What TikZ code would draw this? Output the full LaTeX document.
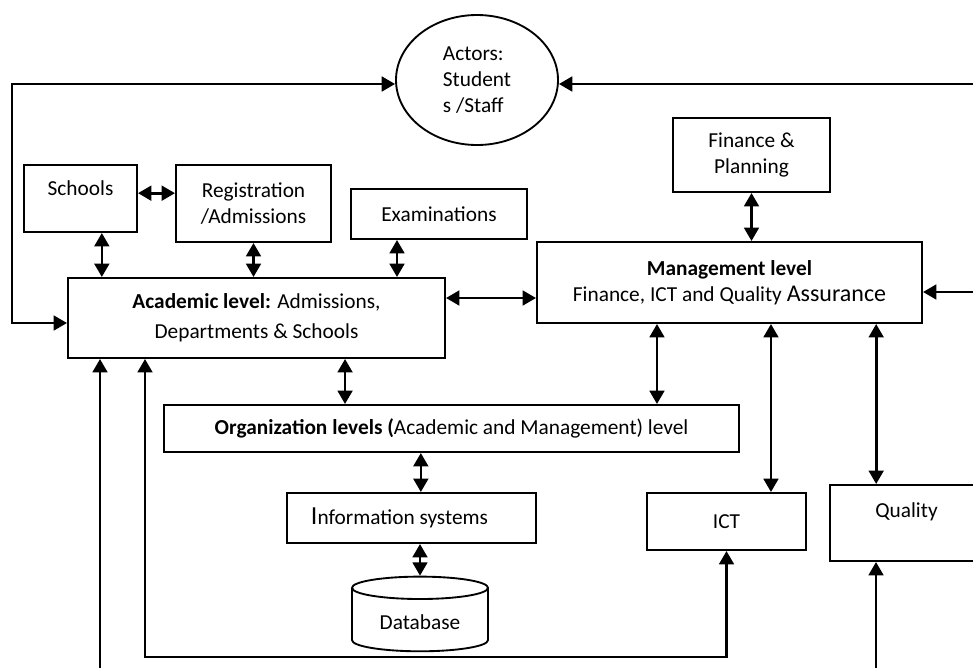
\documentclass[tikz,border=0pt]{standalone}
\usepackage{fontspec}
\setmainfont{Carlito}
\usepackage{tikz}
\usetikzlibrary{positioning,calc,shapes.geometric,arrows.meta}

\tikzset{
	box/.style={draw, line width=1.5pt, inner sep=2pt, align=center, font=\fontsize{16}{19.5}\selectfont},
	link/.style={line width=2pt, {Triangle[length=10pt,width=11pt]}-{Triangle[length=10pt,width=11pt]}},
	feed/.style={line width=2pt, -{Triangle[length=10pt,width=11pt]}}
}

\begin{document}
\begin{tikzpicture}[x=0.75pt,y=-0.75pt]
		\useasboundingbox (0,0) rectangle (973,668);
		
		\node[ellipse,draw,line width=1.4pt,inner sep=0pt,minimum width=121.5pt,minimum height=97.5pt,align=left,font=\fontsize{16}{19.5}\selectfont] (ACT) at (477,80) {Actors:\\Student\\s /Staff};
		
		\node[box,minimum width=84.75pt,minimum height=50.25pt] (SCH) at (80.5,198.5) {Schools\\[-4pt] \mbox{}};
		\node[box,minimum width=116.25pt,minimum height=57.75pt] (REG) at (253.5,203.5) {Registration\\/Admissions};
		\node[box,minimum width=132pt,minimum height=37.5pt] (EXA) at (439,214) {Examinations};
		\node[box,minimum width=117.75pt,minimum height=55.5pt] (FIN) at (751.5,155) {Finance \&\\Planning};
		
		\node[box,minimum width=282.75pt,minimum height=60pt] (ACA) at (256.5,318) {\textbf{Academic level:} Admissions,\\[3pt]Departments \& Schools};
		\node[box,minimum width=288.75pt,minimum height=60.75pt] (MGT) at (729.5,282.5) {\textbf{Management level}\\Finance, ICT and Quality {\fontsize{18}{19.5}\selectfont Assurance}};
		
		\node[box,minimum width=431.25pt,minimum height=35.25pt] (ORG) at (451.5,428.5) {\textbf{Organization levels (}Academic and Management) level};
		
		\node[box,minimum width=186.75pt,minimum height=37.5pt] (INF) at (411.5,518) {{\fontsize{19.5}{19.5}\selectfont I}nformation systems\hspace{18pt}};
		\node[box,minimum width=119.25pt,minimum height=42.75pt] (ICT) at (726.5,521.5) {ICT};
		\node[box,minimum width=114.75pt,minimum height=57pt] (QUA) at (906.5,523) {Quality\\ \mbox{}};
		
		\node[cylinder,shape border rotate=90,draw,line width=1.4pt,aspect=0.25,minimum width=102pt,minimum height=56pt,font=\fontsize{16}{19.5}\selectfont] (DB) at (420,622) {Database};
		
		% loose ends at the edges of the sheet
		\coordinate (LT) at (12,84);
		\coordinate (RT) at (973,84);
		\coordinate (RM) at (973,292);
		\coordinate (B1) at (100,668);
		\coordinate (B2) at (145,657);
		\coordinate (B3) at (876,668);
		
		\draw[link] (LT -| ACT.west) -- (LT) |- ([yshift=-3.75pt]ACA.west);
		\draw[feed] (RT) -- (RT -| ACT.east);
		\draw[feed] (RM) -- (RM -| MGT.east);
		
		\draw[link] ([yshift=4pt]SCH.east) -- ([yshift=4pt]SCH.east -| REG.west);
		\draw[link] ([xshift=16pt]SCH.south) -- ([xshift=16pt]SCH.south |- ACA.north);
		\draw[link] (REG.south) -- (REG.south |- ACA.north);
		\draw[link] ([xshift=-31.5pt]EXA.south) -- ([xshift=-31.5pt]EXA.south |- ACA.north);
		\draw[link] (FIN.south) -- (FIN.south |- MGT.north);
		\draw[link] ([yshift=15pt]ACA.east) -- ([yshift=15pt]ACA.east -| MGT.west);
		
		\draw[link] ([xshift=-54.4pt]MGT.south) -- ([xshift=-54.4pt]MGT.south |- ORG.north);
		\draw[link] ([xshift=31.1pt]MGT.south) -- ([xshift=31.1pt]MGT.south |- ICT.north);
		\draw[link] ([xshift=110pt]MGT.south) -- ([xshift=110pt]MGT.south |- QUA.north);
		\draw[link] ([xshift=66.4pt]ACA.south) -- ([xshift=66.4pt]ACA.south |- ORG.north);
		\draw[link] ([xshift=7pt]INF.north) -- ([xshift=7pt]INF.north |- ORG.south);
		\draw[link] (INF.south -| DB.north) -- (DB.north);
		
		\draw[feed] (B1) -- (B1 |- ACA.south);
		\draw[link] (B2 |- ACA.south) -- (B2) -| (ICT.south);
		\draw[feed] (B3) -- (B3 |- QUA.south);
		\end{tikzpicture}
\end{document}
